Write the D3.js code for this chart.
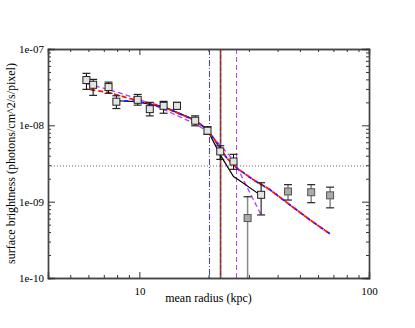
<!DOCTYPE html>
<html>
<head>
<meta charset="utf-8">
<script src="https://cdn.jsdelivr.net/npm/d3@7"></script>
<style>
  body { margin: 0; background: #fff; }
  svg text { font-family: "Liberation Serif", "DejaVu Serif", serif; fill: #000; }
</style>
</head>
<body>
<svg id="chart" width="415" height="328"></svg>
<script>
// data points (radius in kpc, surface brightness)
var radius = [5.88, 6.29, 7.34, 7.94, 9.83, 11.1, 12.75, 14.58, 17.5, 19.8, 22.5, 25.7, 29.6, 33.9, 44.4, 56.0, 67.7];
var sb     = [3.92e-8, 3.4e-8, 3.17e-8, 2.04e-8, 2.16e-8, 1.63e-8, 1.8e-8, 1.8e-8, 1.15e-8, 8.5e-9, 4.55e-9, 3.36e-9, 6.1e-10, 1.23e-9, 1.36e-9, 1.33e-9, 1.21e-9];
var sbHi   = [4.8e-8, 4.0e-8, 3.68e-8, 2.44e-8, 2.54e-8, 2.0e-8, 2.06e-8, 2.0e-8, 1.33e-8, 9.6e-9, 5.4e-9, 4.17e-9, 1.16e-9, 1.77e-9, 1.67e-9, 1.67e-9, 1.55e-9];
var sbLo   = [2.96e-8, 2.47e-8, 2.63e-8, 1.66e-8, 1.84e-8, 1.33e-8, 1.44e-8, 1.62e-8, 9.86e-9, 7.6e-9, 3.58e-9, 2.65e-9, 1e-11, 6.7e-10, 1.05e-9, 9.7e-10, 8.3e-10];
var excluded = [0, 0, 0, 0, 0, 0, 0, 0, 0, 0, 0, 0, 1, 0, 1, 1, 1];

// model curves
var redR  = [5.88, 7.24, 9.8, 12.75, 13.6, 17.5, 19.05, 21.04, 22.5, 24.07, 26.6, 31.4, 37.1, 45.3, 55.4, 67.7];
var redSB = [2.98e-8, 2.72e-8, 2.11e-8, 1.77e-8, 1.6e-8, 1.16e-8, 9.6e-9, 6.8e-9, 5.0e-9, 3.7e-9, 2.75e-9, 1.93e-9, 1.43e-9, 9.06e-10, 5.76e-10, 3.77e-10];
var blueR  = [7.94, 9.8, 11.1, 12.75, 13.6, 17.5, 19.05, 21.04, 22.5, 24.07, 26.6, 31.4, 37.1, 45.3, 55.4, 67.7];
var blueSB = [2.1e-8, 2.06e-8, 1.9e-8, 1.75e-8, 1.6e-8, 1.16e-8, 9.6e-9, 6.8e-9, 5.0e-9, 3.7e-9, 2.75e-9, 1.93e-9, 1.43e-9, 9.06e-10, 5.76e-10, 3.77e-10];
var blackR  = [7.94, 9.8, 11.1, 12.75, 13.6, 17.5, 19.8, 22.5, 25.7, 27.0, 33.9];
var blackSB = [2.1e-8, 2.04e-8, 1.88e-8, 1.74e-8, 1.62e-8, 1.17e-8, 8.7e-9, 4.1e-9, 2.13e-9, 1.93e-9, 1.2e-9];
var purpleR  = [5.92, 7.3, 9.8, 12.75, 15.1, 17.5, 19.8, 22.5, 25.7, 29.6, 33.9];
var purpleSB = [3.5e-8, 2.95e-8, 2.25e-8, 1.62e-8, 1.28e-8, 1.05e-8, 8.3e-9, 5.5e-9, 3.5e-9, 1.5e-9, 6.7e-10];

// reference lines
var bgLevel = 2.93e-9;
var edgeBlue = 20.2, edgeRed = 22.57, edgePurple = 26.5;

var xTicks = [10, 100];
var yTicks = [1e-10, 1e-9, 1e-8, 1e-7];
var yTickLabels = ["1e-10", "1e-09", "1e-08", "1e-07"];

var margin = {top: 49, right: 46, bottom: 50, left: 48},
    width = 415 - margin.left - margin.right,
    height = 328 - margin.top - margin.bottom;

var svg = d3.select("#chart");
var g = svg.append("g").attr("transform", "translate(" + margin.left + "," + margin.top + ")");

var x = d3.scaleLog().domain([4, 100]).range([0, width]);
var y = d3.scaleLog().domain([1e-10, 1e-7]).range([height, 0]);

g.append("clipPath").attr("id", "clip")
  .append("rect").attr("width", width).attr("height", height);
var plot = g.append("g").attr("clip-path", "url(#clip)");

// minor ticks
var xMinor = [];
[1, 10].forEach(function(dec){
  for (var k = 2; k <= 9; k++) { if (k*dec >= 4) xMinor.push(k*dec); }
});
var yMinor = [];
[1e-10, 1e-9, 1e-8].forEach(function(dec){
  for (var k = 2; k <= 9; k++) yMinor.push(k*dec);
});

// axes (ticks inward, Grace style)
g.append("g").attr("transform", "translate(0," + height + ")")
  .call(d3.axisBottom(x).tickValues(xMinor).tickSize(-3).tickFormat(""));
g.append("g").attr("transform", "translate(0," + height + ")")
  .call(d3.axisBottom(x).tickValues(xTicks).tickSize(-6).tickPadding(9).tickFormat(d3.format("d")));
g.append("g").call(d3.axisTop(x).tickValues(xMinor).tickSize(-3).tickFormat(""));
g.append("g").call(d3.axisTop(x).tickValues(xTicks).tickSize(-6).tickFormat(""));

g.append("g").call(d3.axisLeft(y).tickValues(yMinor).tickSize(-3).tickFormat(""));
g.append("g").call(d3.axisLeft(y).tickValues(yTicks).tickSize(-7).tickPadding(4)
  .tickFormat(function(d, i){ return yTickLabels[i]; }));
g.append("g").attr("transform", "translate(" + width + ",0)")
  .call(d3.axisRight(y).tickValues(yMinor).tickSize(-3).tickFormat(""));
g.append("g").attr("transform", "translate(" + width + ",0)")
  .call(d3.axisRight(y).tickValues(yTicks).tickSize(-7).tickFormat(""));

g.selectAll(".domain").attr("stroke", "#444").attr("stroke-width", 1.4);
g.selectAll(".tick line").attr("stroke", "#333");
g.selectAll(".tick text").style("font-size", "11px").style("font-family", "Liberation Serif, serif");

// reference lines
plot.append("line")
  .attr("x1", 0).attr("x2", width).attr("y1", y(bgLevel)).attr("y2", y(bgLevel))
  .attr("stroke", "#666").attr("stroke-dasharray", "1,2").attr("stroke-width", 1);
plot.append("line")
  .attr("x1", x(edgeBlue)).attr("x2", x(edgeBlue)).attr("y1", 0).attr("y2", height)
  .attr("stroke", "#3a3aff").attr("stroke-dasharray", "6,2,1,2").attr("stroke-width", 1);
plot.append("line")
  .attr("x1", x(edgeRed)).attr("x2", x(edgeRed)).attr("y1", 0).attr("y2", height)
  .attr("stroke", "#666").attr("stroke-width", 1.8);
plot.append("line")
  .attr("x1", x(edgeRed)).attr("x2", x(edgeRed)).attr("y1", 0).attr("y2", height)
  .attr("stroke", "#cc1010").attr("stroke-dasharray", "4,2").attr("stroke-width", 1);
plot.append("line")
  .attr("x1", x(edgePurple)).attr("x2", x(edgePurple)).attr("y1", 0).attr("y2", height)
  .attr("stroke", "#b040f0").attr("stroke-dasharray", "5,3").attr("stroke-width", 1);

// model curves
function curve(rs, vals){
  return d3.line()
    .x(function(d, i){ return x(rs[i]); })
    .y(function(d, i){ return y(vals[i]); })(vals);
}
plot.append("path").attr("d", curve(purpleR, purpleSB))
  .attr("fill", "none").attr("stroke", "#b040f0").attr("stroke-width", 1.3).attr("stroke-dasharray", "5,3");
plot.append("path").attr("d", curve(blackR, blackSB))
  .attr("fill", "none").attr("stroke", "#000").attr("stroke-width", 1.2);
plot.append("path").attr("d", curve(blueR, blueSB))
  .attr("fill", "none").attr("stroke", "#1a1aff").attr("stroke-width", 1.8).attr("stroke-dasharray", "4,4");
plot.append("path").attr("d", curve(redR, redSB))
  .attr("fill", "none").attr("stroke", "#ff1010").attr("stroke-width", 1.8)
  .attr("stroke-dasharray", "5,3").attr("stroke-dashoffset", 4);

// error bars
var pts = radius.map(function(r, i){
  return {r: r, v: sb[i], hi: sbHi[i], lo: sbLo[i], ex: excluded[i]};
});
var bars = plot.selectAll(".ebar").data(pts).enter().append("g").attr("class", "ebar");
bars.append("line")
  .attr("x1", function(d){ return x(d.r); }).attr("x2", function(d){ return x(d.r); })
  .attr("y1", function(d){ return y(d.hi); }).attr("y2", function(d){ return y(d.lo); })
  .attr("stroke", function(d){ return d.ex ? "#888" : "#000"; }).attr("stroke-width", function(d){ return d.ex ? 1.5 : 1; });
bars.append("line")
  .attr("x1", function(d){ return x(d.r) - 4; }).attr("x2", function(d){ return x(d.r) + 4; })
  .attr("y1", function(d){ return y(d.hi); }).attr("y2", function(d){ return y(d.hi); })
  .attr("stroke", "#222").attr("stroke-width", 1.2);
bars.filter(function(d){ return d.lo > 1e-10; }).append("line")
  .attr("x1", function(d){ return x(d.r) - 4; }).attr("x2", function(d){ return x(d.r) + 4; })
  .attr("y1", function(d){ return y(d.lo); }).attr("y2", function(d){ return y(d.lo); })
  .attr("stroke", "#222").attr("stroke-width", 1.2);

// square markers
plot.selectAll(".pt").data(pts).enter().append("rect")
  .attr("class", "pt")
  .attr("x", function(d){ return x(d.r) - 3.5; })
  .attr("y", function(d){ return y(d.v) - 3.5; })
  .attr("width", 7).attr("height", 7)
  .attr("fill", function(d){ return d.ex ? "#aaa" : "#e4e4e4"; })
  .attr("stroke", function(d){ return d.ex ? "#555" : "#222"; })
  .attr("stroke-width", 1);

// axis titles
g.append("text")
  .attr("x", width / 2).attr("y", height + 24)
  .attr("text-anchor", "middle").style("font-size", "12px")
  .text("mean radius (kpc)");
g.append("text")
  .attr("transform", "translate(" + (-33) + "," + (height / 2) + ") rotate(-90)")
  .attr("text-anchor", "middle").style("font-size", "12px")
  .text("surface brightness (photons/cm^2/s/pixel)");
</script>
</body>
</html>
